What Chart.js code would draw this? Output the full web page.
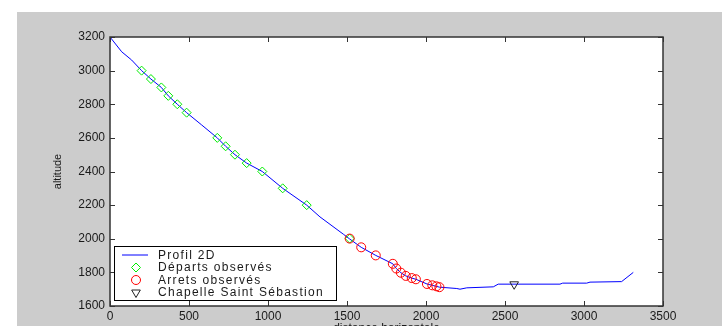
<!DOCTYPE html>
<html>
<head>
<meta charset="utf-8">
<script src="https://cdn.jsdelivr.net/npm/chart.js@4/dist/chart.umd.min.js"></script>
<style>
  html, body { margin: 0; padding: 0; background: #fff; }
  #wrap { width: 722px; height: 326px; }
</style>
</head>
<body>
<div id="wrap"><canvas id="myChart" width="722" height="326"></canvas></div>
<script>
// profil 2D (distance horizontale / altitude)
const profileX = [0, 74, 137, 200, 259, 325, 369, 426, 485, 580, 679, 732, 791, 865, 964, 1093, 1245, 1329, 1477, 1515, 1590, 1682, 1790, 1812, 1841, 1872, 1910, 1936, 2006, 2040, 2066, 2085, 2195, 2215, 2258, 2426, 2457, 2848, 2865, 3017, 3038, 3238, 3312];
const profileY = [3200, 3112, 3063, 3000, 2950, 2900, 2850, 2800, 2750, 2677, 2600, 2550, 2500, 2450, 2400, 2300, 2200, 2130, 2027, 2000, 1949, 1901, 1851, 1823, 1798, 1779, 1766, 1759, 1731, 1723, 1717, 1712, 1704, 1700, 1708, 1714, 1730, 1730, 1736, 1736, 1742, 1745, 1800];

// départs observés
const departX = [200, 259, 325, 369, 426, 485, 679, 732, 791, 865, 964, 1093, 1245, 1517];
const departY = [3000, 2950, 2900, 2850, 2800, 2750, 2600, 2550, 2500, 2450, 2400, 2300, 2200, 2001];

// arrets observés
const arretX = [1517, 1590, 1682, 1790, 1812, 1841, 1872, 1910, 1936, 2006, 2040, 2066, 2085];
const arretY = [2001, 1949, 1901, 1851, 1823, 1798, 1779, 1766, 1759, 1731, 1723, 1717, 1712];

// chapelle
const chapelleX = [2558];
const chapelleY = [1729];

const xTicks = [0, 500, 1000, 1500, 2000, 2500, 3000, 3500];
const yTicks = [1600, 1800, 2000, 2200, 2400, 2600, 2800, 3000, 3200];

const legendLabels = ["Profil 2D", "Départs observés", "Arrets observés", "Chapelle Saint Sébastion"];

const toPoints = (xs, ys) => xs.map((x, i) => ({ x: x, y: ys[i] }));

const FONT = "'Liberation Sans', Arial, sans-serif";

// fond gris façon figure matlab + cadre + ticks vers l'intérieur
const frame = {
  id: "frame",
  beforeDraw: chart => {
    const ctx = chart.ctx;
    const a = chart.chartArea;
    ctx.save();
    ctx.fillStyle = "#ffffff";
    ctx.fillRect(0, 0, chart.width, chart.height);
    ctx.fillStyle = "#cccccc";
    ctx.fillRect(17, 12, chart.width - 17, chart.height - 12);
    ctx.fillStyle = "#ffffff";
    ctx.fillRect(a.left, a.top, a.right - a.left, a.bottom - a.top);
    ctx.restore();
  },
  afterDraw: chart => {
    const ctx = chart.ctx;
    const a = chart.chartArea;
    const sx = chart.scales.x;
    const sy = chart.scales.y;
    ctx.save();
    ctx.strokeStyle = "#333333";
    ctx.lineWidth = 1;
    ctx.beginPath();
    xTicks.forEach(v => {
      const px = Math.round(sx.getPixelForValue(v)) + 0.5;
      ctx.moveTo(px, a.bottom);
      ctx.lineTo(px, a.bottom - 5);
      ctx.moveTo(px, a.top);
      ctx.lineTo(px, a.top + 5);
    });
    yTicks.forEach(v => {
      const py = Math.round(sy.getPixelForValue(v)) + 0.5;
      ctx.moveTo(a.left, py);
      ctx.lineTo(a.left + 5, py);
      ctx.moveTo(a.right, py);
      ctx.lineTo(a.right - 5, py);
    });
    ctx.stroke();
    ctx.lineWidth = 1.5;
    ctx.strokeRect(a.left, a.top, a.right - a.left, a.bottom - a.top);

    // légende
    const lx = 114.5, ly = 246.5, lw = 222, lh = 54;
    ctx.fillStyle = "#ffffff";
    ctx.fillRect(lx, ly, lw, lh);
    ctx.strokeStyle = "#000000";
    ctx.lineWidth = 1;
    ctx.strokeRect(lx, ly, lw, lh);
    ctx.font = "12px " + FONT;
    ctx.textBaseline = "middle";
    ctx.textAlign = "left";
    if ("letterSpacing" in ctx) ctx.letterSpacing = "1.3px";
    chart.data.datasets.forEach((ds, i) => {
      const ry = 255 + i * 12.5;
      if (i === 0) {
        ctx.strokeStyle = ds.borderColor;
        ctx.lineWidth = 1;
        ctx.beginPath();
        ctx.moveTo(122, ry);
        ctx.lineTo(148, ry);
        ctx.stroke();
      } else {
        ctx.strokeStyle = ds.pointBorderColor;
        ctx.fillStyle = "rgba(0,0,0,0)";
        ctx.lineWidth = ds.pointBorderWidth;
        Chart.helpers.drawPoint(ctx, {
          pointStyle: ds.pointStyle,
          rotation: ds.pointRotation || 0,
          radius: ds.pointRadius,
          borderWidth: ds.pointBorderWidth
        }, 136, ry);
      }
      ctx.fillStyle = "#1a1a1a";
      ctx.fillText(legendLabels[i], 158, ry + 0.5);
    });
    ctx.restore();
  }
};

const ctx = document.getElementById("myChart").getContext("2d");
const myChart = new Chart(ctx, {
  type: "scatter",
  data: {
    datasets: [
      {
        label: legendLabels[0],
        data: toPoints(profileX, profileY),
        showLine: true,
        borderColor: "#0000ff",
        borderWidth: 1,
        pointRadius: 0,
        fill: false,
        order: 4
      },
      {
        label: legendLabels[1],
        data: toPoints(departX, departY),
        showLine: false,
        pointStyle: "rectRot",
        pointRadius: 4.5,
        pointBorderColor: "#00ee00",
        pointBackgroundColor: "rgba(0,0,0,0)",
        pointBorderWidth: 1,
        order: 3
      },
      {
        label: legendLabels[2],
        data: toPoints(arretX, arretY),
        showLine: false,
        pointStyle: "circle",
        pointRadius: 4.5,
        pointBorderColor: "#ff0000",
        pointBackgroundColor: "rgba(0,0,0,0)",
        pointBorderWidth: 1,
        order: 2
      },
      {
        label: legendLabels[3],
        data: toPoints(chapelleX, chapelleY),
        showLine: false,
        pointStyle: "triangle",
        pointRotation: 180,
        pointRadius: 5,
        pointBorderColor: "#222222",
        pointBackgroundColor: "rgba(0,0,0,0)",
        pointBorderWidth: 1,
        order: 1
      }
    ]
  },
  options: {
    responsive: false,
    animation: false,
    devicePixelRatio: 1,
    layout: { padding: { left: 0, top: 37, right: 59, bottom: 0 } },
    plugins: {
      legend: { display: false },
      tooltip: { enabled: false }
    },
    scales: {
      x: {
        type: "linear",
        min: 0,
        max: 3500,
        afterBuildTicks: s => { s.ticks = xTicks.map(v => ({ value: v })); },
        afterFit: s => { s.height = 20; },
        grid: { display: false, drawTicks: false },
        border: { display: false },
        ticks: { padding: 3, color: "#1a1a1a", font: { family: FONT, size: 12 }, callback: v => String(v) },
        title: {
          display: true,
          text: "distance horizontale",
          color: "#1a1a1a",
          font: { family: FONT, size: 12 },
          padding: { top: 0, bottom: -10 }
        }
      },
      y: {
        type: "linear",
        min: 1600,
        max: 3200,
        afterBuildTicks: s => { s.ticks = yTicks.map(v => ({ value: v })); },
        afterFit: s => { s.width = 110; },
        grid: { display: false, drawTicks: false },
        border: { display: false },
        ticks: { padding: 5, color: "#1a1a1a", font: { family: FONT, size: 12 }, callback: v => String(v) },
        title: {
          display: true,
          text: "altitude",
          color: "#1a1a1a",
          font: { family: FONT, size: 11 },
          padding: { top: 51, bottom: 0 }
        }
      }
    }
  },
  plugins: [frame]
});
</script>
</body>
</html>
